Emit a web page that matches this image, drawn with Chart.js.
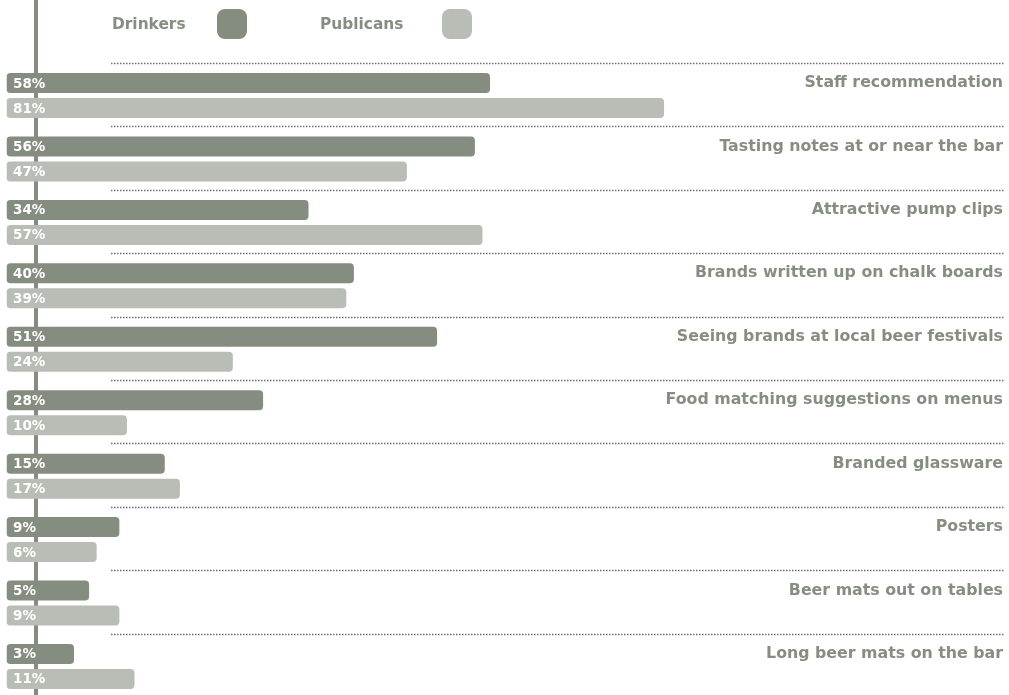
<!DOCTYPE html>
<html lang="en">
<head>
  <meta charset="UTF-8">
  <title>What influences beer choice at the bar</title>
  <script src="https://cdn.jsdelivr.net/npm/chart.js"></script>
  <style>
    html, body { margin: 0; padding: 0; background: #fff; overflow: hidden; }
    .wrap { position: relative; width: 1009px; height: 700px; }
  </style>
</head>
<body>
  <div class="wrap">
    <canvas id="grafico"></canvas>
  </div>

  <script>
    const categorias = [
      "Staff recommendation",
      "Tasting notes at or near the bar",
      "Attractive pump clips",
      "Brands written up on chalk boards",
      "Seeing brands at local beer festivals",
      "Food matching suggestions on menus",
      "Branded glassware",
      "Posters",
      "Beer mats out on tables",
      "Long beer mats on the bar"
    ];
    const drinkers = [58, 56, 34, 40, 51, 28, 15, 9, 5, 3];
    const publicans = [81, 47, 57, 39, 24, 10, 17, 6, 9, 11];

    const corDrinkers = "#858d80";
    const corPublicans = "#babdb6";
    const corTexto = "#868e81";
    const fonte = "'DejaVu Sans', sans-serif";

    // bars start a little left of zero so the % label fits inside
    const xMin = -5.92;
    const xMax = 126.6;

    const extras = {
      id: "extras",
      beforeDatasetsDraw(chart) {
        const ctx = chart.ctx;
        const y = chart.scales.y;
        const area = chart.chartArea;
        const banda = (area.bottom - area.top) / categorias.length;

        // vertical rule behind the bars
        ctx.save();
        ctx.fillStyle = corDrinkers;
        ctx.fillRect(34, 0, 4, chart.height);

        // dotted separator above each group
        ctx.strokeStyle = "#6f6f6f";
        ctx.lineWidth = 1.5;
        ctx.setLineDash([1.5, 1.5]);
        categorias.forEach((c, i) => {
          const top = Math.round(y.getPixelForValue(i) - banda / 2) - 0.5;
          ctx.beginPath();
          ctx.moveTo(111, top);
          ctx.lineTo(1005, top);
          ctx.stroke();
        });
        ctx.restore();
      },
      afterDatasetsDraw(chart) {
        const ctx = chart.ctx;
        ctx.save();

        // value labels inside the bars
        ctx.font = "bold 13.5px " + fonte;
        ctx.fillStyle = "#ffffff";
        ctx.textAlign = "left";
        ctx.textBaseline = "middle";
        chart.data.datasets.forEach((ds, di) => {
          chart.getDatasetMeta(di).data.forEach((bar, i) => {
            ctx.fillText(ds.data[i] + "%", 13, bar.y + 1);
          });
        });

        // category names, right aligned beside the first bar
        ctx.font = "bold 15.8px " + fonte;
        ctx.fillStyle = corTexto;
        ctx.textAlign = "right";
        chart.getDatasetMeta(0).data.forEach((bar, i) => {
          ctx.fillText(categorias[i], 1003, bar.y);
        });

        // legend: name then swatch
        const itens = [
          { x: 112, caixa: 217 },
          { x: 320, caixa: 442 }
        ];
        ctx.textAlign = "left";
        ctx.font = "bold 15.4px " + fonte;
        chart.data.datasets.forEach((ds, di) => {
          const it = itens[di];
          ctx.fillStyle = corTexto;
          ctx.fillText(ds.label, it.x, 25);
          ctx.fillStyle = ds.backgroundColor;
          ctx.beginPath();
          ctx.roundRect(it.caixa, 9, 30, 30, 8);
          ctx.fill();
        });
        ctx.restore();
      }
    };

    new Chart(document.getElementById("grafico"), {
      type: "bar",
      data: {
        labels: categorias,
        datasets: [
          {
            label: "Drinkers",
            data: drinkers,
            backgroundColor: corDrinkers,
            base: xMin,
            borderRadius: 4,
            borderSkipped: false,
            categoryPercentage: 0.788,
            barPercentage: 0.8
          },
          {
            label: "Publicans",
            data: publicans,
            backgroundColor: corPublicans,
            base: xMin,
            borderRadius: 4,
            borderSkipped: false,
            categoryPercentage: 0.788,
            barPercentage: 0.8
          }
        ]
      },
      options: {
        indexAxis: "y",
        responsive: true,
        maintainAspectRatio: false,
        animation: false,
        layout: {
          padding: { top: 63.8, bottom: 1.8, left: 6.5, right: 0 }
        },
        scales: {
          x: { display: false, min: xMin, max: xMax },
          y: { display: false }
        },
        plugins: {
          legend: { display: false },
          tooltip: { enabled: false }
        }
      },
      plugins: [extras]
    });
  </script>
</body>
</html>
